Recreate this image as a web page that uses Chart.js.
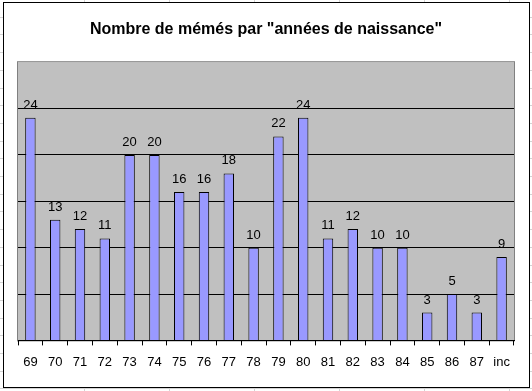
<!DOCTYPE html>
<html>
<head>
<meta charset="utf-8">
<script src="https://cdn.jsdelivr.net/npm/chart.js@4/dist/chart.umd.min.js"></script>
<style>
  html, body { margin: 0; padding: 0; }
  body {
    width: 532px; height: 391px; overflow: hidden; position: relative;
    background-color: #fff;
    background-image:
      repeating-linear-gradient(to right, transparent 0, transparent 84px, #d4d4d4 84px, #d4d4d4 85px, transparent 85px, transparent 78.6px),
      repeating-linear-gradient(to bottom, transparent 0, transparent 16.7px, #d4d4d4 16.7px, #d4d4d4 17.7px);
  }
  #box {
    position: absolute; left: 3px; top: 2px; width: 525px; height: 384px;
    border: 1px solid #000; background: #fff;
  }
  canvas { display: block; }
</style>
</head>
<body>
<div id="box"><canvas id="chart" width="525" height="384"></canvas></div>
<script>
var annees = ['69', '70', '71', '72', '73', '74', '75', '76', '77', '78', '79', '80', '81', '82', '83', '84', '85', '86', '87', 'inc']
var memes = [24, 13, 12, 11, 20, 20, 16, 16, 18, 10, 22, 24, 11, 12, 10, 10, 3, 5, 3, 9]
var yMax = 30
var yStep = 5

var font = "Arial, 'Liberation Sans', sans-serif"

// fond gris de la zone de tracé, comme dans Excel
var plotBg = {
  id: 'plotBg',
  beforeDraw: function (chart) {
    var a = chart.chartArea, ctx = chart.ctx
    ctx.save()
    ctx.fillStyle = '#c0c0c0'
    ctx.fillRect(a.left, a.top, a.right - a.left, a.bottom - a.top)
    ctx.strokeStyle = '#808080'
    ctx.lineWidth = 1
    ctx.strokeRect(a.left - 0.5, a.top - 0.5, a.right - a.left + 1, a.bottom - a.top + 1)
    ctx.restore()
  }
}

// valeurs au-dessus des barres
var barLabels = {
  id: 'barLabels',
  afterDatasetsDraw: function (chart) {
    var ctx = chart.ctx
    var meta = chart.getDatasetMeta(0)
    ctx.save()
    ctx.font = '13px ' + font
    ctx.fillStyle = '#000'
    ctx.textAlign = 'center'
    ctx.textBaseline = 'alphabetic'
    meta.data.forEach(function (bar, i) {
      ctx.fillText(String(memes[i]), bar.x, bar.y - 9)
    })
    ctx.restore()
  }
}

new Chart(document.getElementById('chart'), {
  type: 'bar',
  data: {
    labels: annees,
    datasets: [{
      label: 'mémés',
      data: memes,
      backgroundColor: '#9999ff',
      borderColor: '#000',
      borderWidth: 1,
      categoryPercentage: 1,
      barPercentage: 0.42
    }]
  },
  options: {
    responsive: false,
    animation: false,
    layout: { padding: { left: 14, right: 15, top: 0, bottom: 8 } },
    plugins: {
      legend: { display: false },
      tooltip: { enabled: false },
      title: {
        display: true,
        text: 'Nombre de mémés par "années de naissance"',
        color: '#000',
        font: { family: font, size: 16, weight: 'bold' },
        padding: { top: 17, bottom: 23 }
      }
    },
    scales: {
      x: {
        offset: true,
        grid: { offset: true, drawOnChartArea: false, color: '#000', tickLength: 5 },
        border: { color: '#000' },
        ticks: { color: '#000', padding: 9, maxRotation: 0, autoSkip: false, font: { family: font, size: 13 } }
      },
      y: {
        min: 0,
        max: yMax,
        grid: { color: function (c) { return c.tick.value === yMax ? 'rgba(0,0,0,0)' : '#000' }, drawTicks: false },
        border: { display: false },
        ticks: { display: false, stepSize: yStep }
      }
    }
  },
  plugins: [plotBg, barLabels]
})
</script>
</body>
</html>
